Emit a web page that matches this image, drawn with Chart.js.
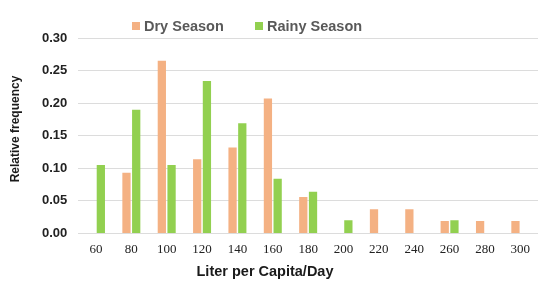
<!DOCTYPE html>
<html><head><meta charset="utf-8">
<script src="https://cdn.jsdelivr.net/npm/chart.js@4"></script>
<style>html,body{margin:0;padding:0;background:#fff}#wrap{width:541px;height:282px}</style>
</head><body><div id="wrap"><canvas id="c" width="541" height="282"></canvas></div>
<script>
const categories = ['60','80','100','120','140','160','180','200','220','240','260','280','300'];
const drySeason = [null,0.093,0.265,0.114,0.132,0.207,0.056,null,0.037,0.037,0.019,0.019,0.019];
const rainySeason = [0.105,0.190,0.105,0.234,0.169,0.084,0.064,0.020,null,null,0.020,null,null];
const yTicks = [0,0.05,0.10,0.15,0.20,0.25,0.30];
const xTitle = 'Liter per Capita/Day';
const yTitle = 'Relative frequency';

const textPlugin = {
  id:'customText',
  afterDraw(chart){
    const ctx = chart.ctx;
    ctx.save();
    ctx.font = 'bold 14.5px "Liberation Sans", Arial, sans-serif';
    ctx.textBaseline = 'middle';
    const items = [{t:'Dry Season',c:'#F4B183',x:132},{t:'Rainy Season',c:'#92D050',x:255}];
    const y = 26;
    items.forEach(it=>{
      ctx.fillStyle = it.c;
      ctx.fillRect(it.x, y-4, 8, 8);
      ctx.fillStyle = '#595959';
      ctx.fillText(it.t, it.x+12, y+0.5);
    });
    // axis titles
    ctx.fillStyle = '#1a1a1a';
    ctx.textAlign = 'center';
    ctx.font = 'bold 14.5px "Liberation Sans", Arial, sans-serif';
    ctx.fillText(xTitle, 265, 271.5);
    ctx.translate(16, 129);
    ctx.rotate(-Math.PI/2);
    ctx.font = 'bold 12px "Liberation Sans", Arial, sans-serif';
    ctx.fillText(yTitle, 0, 0);
    ctx.restore();
  }
};

new Chart(document.getElementById('c'), {
  type:'bar',
  data:{
    labels:categories,
    datasets:[
      {label:'Dry Season', data:drySeason, backgroundColor:'#F4B183', categoryPercentage:0.55, barPercentage:0.85},
      {label:'Rainy Season', data:rainySeason, backgroundColor:'#92D050', categoryPercentage:0.55, barPercentage:0.85}
    ]
  },
  plugins:[textPlugin],
  options:{
    responsive:false,
    animation:false,
    layout:{padding:{top:38,right:3,left:31,bottom:25}},
    plugins:{legend:{display:false},tooltip:{enabled:false}},
    scales:{
      x:{
        grid:{display:false},
        border:{display:false},
        ticks:{color:'#222',font:{family:'"Liberation Serif", "Times New Roman", serif',size:13},padding:0,maxRotation:0,autoSkip:false}
      },
      y:{
        min:0,max:0.3,
        afterBuildTicks(axis){axis.ticks = yTicks.map(v=>({value:v}));},
        grid:{color:'#dcdcdc',lineWidth:1,drawTicks:false},
        border:{display:false},
        ticks:{color:'#222',font:{family:'"Liberation Sans", Arial, sans-serif',size:13,weight:'bold'},padding:11,callback:v=>Number(v).toFixed(2)}
      }
    }
  }
});
</script></body></html>
